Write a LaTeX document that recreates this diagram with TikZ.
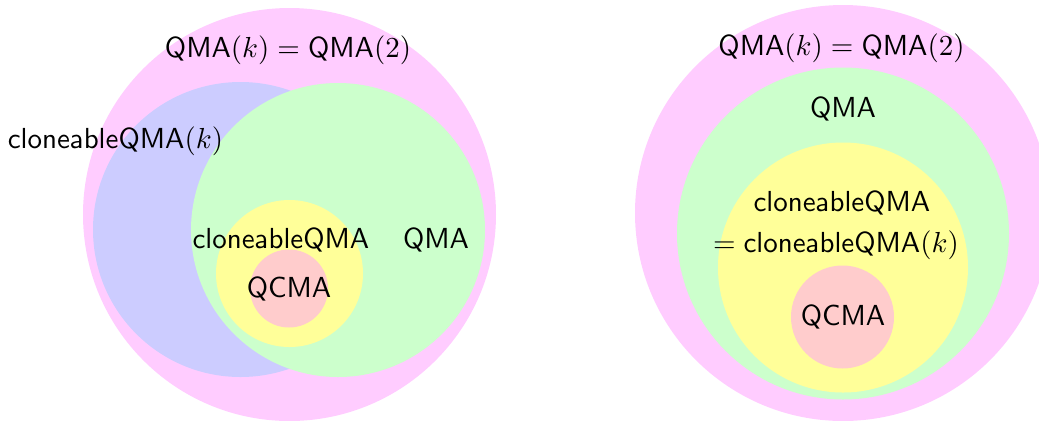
\RequirePackage{fix-cm}
\documentclass[tikz,border=0pt]{standalone}
\definecolor{cpink}{RGB}{255,204,255}
\definecolor{cblue}{RGB}{204,204,255}
\definecolor{cgreen}{RGB}{204,255,204}
\definecolor{cyellow}{RGB}{255,255,153}
\definecolor{cred}{RGB}{255,204,204}
\begin{document}
\begin{tikzpicture}[x=0.0125cm,y=-0.0125cm,
  lbl/.style={anchor=base,inner sep=0pt,font=\fontsize{10.3}{12}\selectfont\sffamily}]
\useasboundingbox (0,0) rectangle (1039,420);
\begin{scope}
\clip (0,0) rectangle (1039,420);
% left diagram
\fill[cpink] (289.5,214.5) circle[radius=206.5];
\fill[cblue] (240.5,229.5) circle[radius=147.5];
\fill[cgreen] (338,230) circle[radius=147];
\fill[cyellow] (289.5,273.5) circle[radius=73.5];
\fill[cred] (289,288.5) circle[radius=39];
% right diagram
\fill[cpink] (843,213) circle[radius=208];
\fill[cgreen] (843,233.5) circle[radius=166];
\fill[cyellow] (843,267.5) circle[radius=125];
\fill[cred] (842.5,317) circle[radius=51.5];
\end{scope}
% left labels
\node[lbl] (l1) at (288,57) {$\mathsf{QMA}(k)=\mathsf{QMA}(2)$};
\node[lbl] (l2) at (115.5,148) {$\mathsf{cloneableQMA}(k)$};
\node[lbl] (l3) at (281,248) {$\mathsf{cloneableQMA}$};
\node[lbl] (l4) at (436,248) {$\mathsf{QMA}$};
\node[lbl] (l5) at (289,297) {$\mathsf{QCMA}$};
% right labels
\node[lbl] (r1) at (841.5,55) {$\mathsf{QMA}(k)=\mathsf{QMA}(2)$};
\node[lbl] (r2) at (843,117) {$\mathsf{QMA}$};
\node[lbl] (r3) at (842,211) {$\mathsf{cloneableQMA}$};
\node[lbl] (r4) at (836,252) {$=\mathsf{cloneableQMA}(k)$};
\node[lbl] (r5) at (843,325) {$\mathsf{QCMA}$};
\end{tikzpicture}
\end{document}
